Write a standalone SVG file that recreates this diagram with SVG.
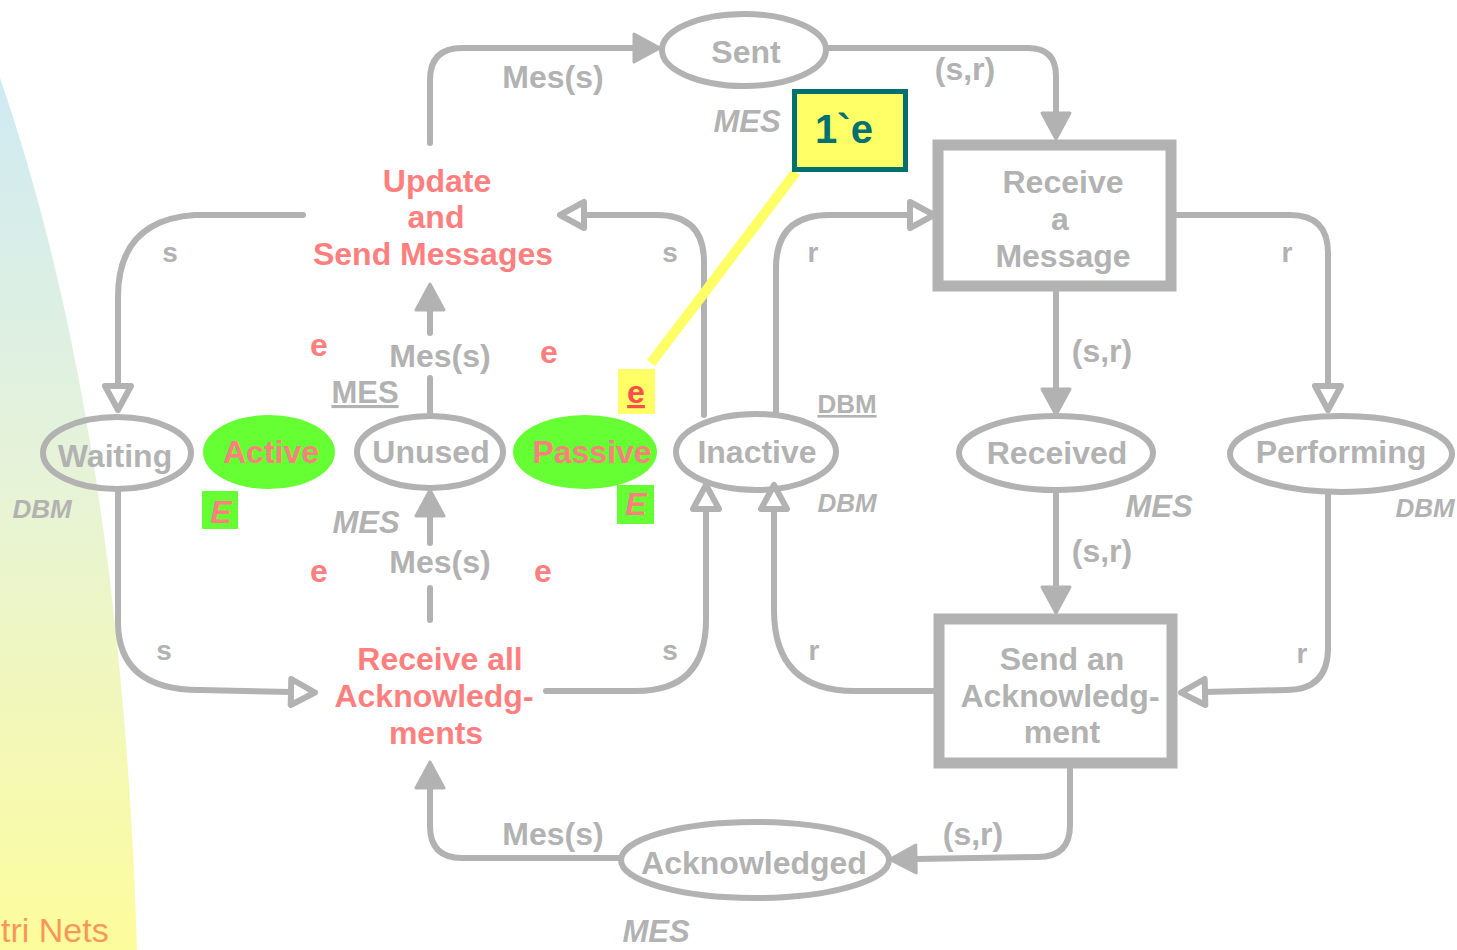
<svg xmlns="http://www.w3.org/2000/svg" width="1457" height="950" viewBox="0 0 1457 950">
  <defs>
    <linearGradient id="bgGrad" x1="0" y1="0" x2="0" y2="1">
      <stop offset="0" stop-color="#cfeaf3"/>
      <stop offset="0.45" stop-color="#e6f3d8"/>
      <stop offset="1" stop-color="#fdfc9c"/>
    </linearGradient>
    <marker id="arrowFilled" markerUnits="userSpaceOnUse" markerWidth="40" markerHeight="40" refX="0" refY="16" orient="auto" overflow="visible">
      <path d="M0,2 L26,16 L0,30 Z" fill="#b2b2b2" stroke="#b2b2b2" stroke-width="3" stroke-linejoin="round"/>
    </marker>
    <marker id="arrowHollow" markerUnits="userSpaceOnUse" markerWidth="40" markerHeight="40" refX="0" refY="16" orient="auto" overflow="visible">
      <path d="M0,3 L24,16 L0,29 Z" fill="#ffffff" stroke="#b2b2b2" stroke-width="6" stroke-linejoin="round"/>
    </marker>
  </defs>
  <style>
    text { font-family: "Liberation Sans", Arial, sans-serif; font-weight: bold; text-anchor: middle; }
    .gray { fill: #b2b2b2; }
    .pink { fill: #ff7f7f; }
    .lbl { font-size: 32px; }
    .small { font-size: 28px; }
    .type { font-size: 31px; font-style: italic; fill: #b2b2b2; }
    .dbm { font-size: 26px; font-style: italic; fill: #b2b2b2; }
    .place { fill: none; stroke: #b2b2b2; stroke-width: 6; }
    .token { fill: #66ff33; stroke: none; }
    .trans { fill: #ffffff; stroke: #b2b2b2; stroke-width: 11; }
    .arc { fill: none; stroke: #b2b2b2; stroke-width: 6; stroke-linecap: round; stroke-linejoin: round; }
    .mes { marker-end: url(#arrowFilled); }
    .dbmArc { marker-end: url(#arrowHollow); }
  </style>

  <!-- background band on the left -->
  <path d="M0,78 C70,280 125,560 137,950 L0,950 Z" fill="url(#bgGrad)"/>
  <text x="1" y="942" style="text-anchor:start;font-weight:normal;font-size:34px;fill:#f7985a">tri Nets</text>

  <!-- arcs -->
  <g id="connectors">
    <path class="arc mes" d="M430,143 L430,80 Q430,48 462,48 L634,48"/>
    <path class="arc mes" d="M828,48 L1028,48 Q1056,48 1056,76 L1056,113"/>
    <path class="arc mes" d="M1056,292 L1056,389"/>
    <path class="arc dbmArc" d="M1177,215 L1290,215 Q1328,215 1328,253 L1328,386"/>
    <path class="arc mes" d="M1056,492 L1056,587"/>
    <path class="arc dbmArc" d="M1328,494 L1328,648 Q1328,690 1286,690 L1205,692"/>
    <path class="arc dbmArc" d="M933,691 L855,691 Q774,691 774,610 L774,509"/>
    <path class="arc mes" d="M1070,769 L1070,825 Q1070,857 1038,857 L916,859"/>
    <path class="arc mes" d="M620,858 L462,858 Q430,858 430,826 L430,788"/>
    <path class="arc mes" d="M430,620 L430,588 M430,543 L430,516"/>
    <path class="arc mes" d="M430,414 L430,378 M430,333 L430,310"/>
    <path class="arc dbmArc" d="M303,215 L195,215 Q118,220 118,297 L118,386"/>
    <path class="arc dbmArc" d="M118,492 L118,622 Q118,690 200,690 L291,692"/>
    <path class="arc dbmArc" d="M546,691 L636,691 Q706,691 706,620 L706,509"/>
    <path class="arc dbmArc" d="M704,415 L704,262 Q704,215 657,215 L584,215"/>
    <path class="arc dbmArc" d="M776,413 L776,268 Q776,215 829,215 L910,215"/>
  </g>

  <!-- arc inscriptions -->
  <g id="arc-labels">
    <text class="gray lbl" x="553" y="88">Mes(s)</text>
    <text class="gray lbl" x="965" y="80">(s,r)</text>
    <text class="gray small" x="170" y="262">s</text>
    <text class="gray small" x="670" y="262">s</text>
    <text class="gray small" x="813" y="262">r</text>
    <text class="gray small" x="1287" y="262">r</text>
    <text class="gray lbl" x="1102" y="362">(s,r)</text>
    <text class="gray lbl" x="440" y="367">Mes(s)</text>
    <text class="gray lbl" x="440" y="573">Mes(s)</text>
    <text class="gray lbl" x="1102" y="562">(s,r)</text>
    <text class="gray small" x="164" y="660">s</text>
    <text class="gray small" x="670" y="660">s</text>
    <text class="gray small" x="814" y="660">r</text>
    <text class="gray small" x="1302" y="663">r</text>
    <text class="gray lbl" x="553" y="845">Mes(s)</text>
    <text class="gray lbl" x="973" y="845">(s,r)</text>
    <text class="pink lbl" x="319" y="356">e</text>
    <text class="pink lbl" x="549" y="363">e</text>
    <text class="pink lbl" x="319" y="582">e</text>
    <text class="pink lbl" x="543" y="582">e</text>
  </g>

  <!-- places -->
  <g id="place-sent">
    <ellipse class="place" cx="744" cy="50" rx="82" ry="36"/>
    <text class="gray lbl" x="746" y="63">Sent</text>
    <text class="type" x="747" y="132">MES</text>
  </g>
  <g id="place-waiting">
    <ellipse class="place" cx="117" cy="453" rx="74" ry="36"/>
    <text class="gray lbl" x="115" y="467">Waiting</text>
    <text class="dbm" x="42" y="518">DBM</text>
  </g>
  <g id="place-active">
    <ellipse class="token" cx="269" cy="452" rx="66" ry="37"/>
    <text class="pink lbl" x="271" y="463">Active</text>
    <rect x="202" y="491" width="36" height="38" fill="#66ff33"/>
    <text class="pink" x="221" y="523" style="font-size:32px;font-style:italic">E</text>
  </g>
  <g id="place-unused">
    <ellipse class="place" cx="430" cy="452" rx="73" ry="36"/>
    <text class="gray lbl" x="431" y="463">Unused</text>
    <text class="gray" x="365" y="403" style="font-size:31px" text-decoration="underline">MES</text>
    <text class="type" x="366" y="533">MES</text>
  </g>
  <g id="place-passive">
    <ellipse class="token" cx="585" cy="452" rx="72" ry="37"/>
    <text class="pink lbl" x="592" y="463">Passive</text>
    <rect x="617" y="485" width="37" height="39" fill="#66ff33"/>
    <text class="pink" x="636" y="515" style="font-size:32px;font-style:italic">E</text>
  </g>
  <g id="place-inactive">
    <ellipse class="place" cx="756" cy="452" rx="80" ry="38"/>
    <text class="gray lbl" x="757" y="463">Inactive</text>
    <text class="gray" x="847" y="413" style="font-size:26px" text-decoration="underline">DBM</text>
    <text class="dbm" x="847" y="512">DBM</text>
  </g>
  <g id="place-received">
    <ellipse class="place" cx="1056" cy="453" rx="97" ry="37"/>
    <text class="gray lbl" x="1057" y="464">Received</text>
    <text class="type" x="1159" y="517">MES</text>
  </g>
  <g id="place-performing">
    <ellipse class="place" cx="1341" cy="454" rx="111" ry="38"/>
    <text class="gray lbl" x="1341" y="463">Performing</text>
    <text class="dbm" x="1425" y="517">DBM</text>
  </g>
  <g id="place-acknowledged">
    <ellipse class="place" cx="755" cy="860" rx="134" ry="38"/>
    <text class="gray lbl" x="754" y="874">Acknowledged</text>
    <text class="type" x="656" y="942">MES</text>
  </g>

  <!-- transitions -->
  <g id="trans-update">
    <text class="pink lbl" x="437" y="192">Update</text>
    <text class="pink lbl" x="436" y="228">and</text>
    <text class="pink lbl" x="433" y="265">Send Messages</text>
  </g>
  <g id="trans-receive-all">
    <text class="pink lbl" x="440" y="670">Receive all</text>
    <text class="pink lbl" x="434" y="707">Acknowledg-</text>
    <text class="pink lbl" x="436" y="744">ments</text>
  </g>
  <g id="trans-receive-msg">
    <rect class="trans" x="938" y="145" width="233" height="141"/>
    <text class="gray lbl" x="1063" y="193">Receive</text>
    <text class="gray lbl" x="1060" y="230">a</text>
    <text class="gray lbl" x="1063" y="267">Message</text>
  </g>
  <g id="trans-send-ack">
    <rect class="trans" x="939" y="619" width="233" height="144"/>
    <text class="gray lbl" x="1062" y="670">Send an</text>
    <text class="gray lbl" x="1060" y="707">Acknowledg-</text>
    <text class="gray lbl" x="1062" y="743">ment</text>
  </g>

  <!-- initial marking of Passive -->
  <g id="marking">
    <line x1="796" y1="172" x2="651" y2="363" stroke="#ffff66" stroke-width="10"/>
    <rect x="794.5" y="91.5" width="111" height="78" fill="#ffff66" stroke="#007070" stroke-width="5"/>
    <text x="844" y="143" style="font-size:40px;fill:#007070">1`e</text>
    <rect x="618" y="369" width="37" height="45" fill="#ffff66"/>
    <text x="636" y="403" style="font-size:32px;fill:#ff4d4d" text-decoration="underline">e</text>
  </g>
</svg>
